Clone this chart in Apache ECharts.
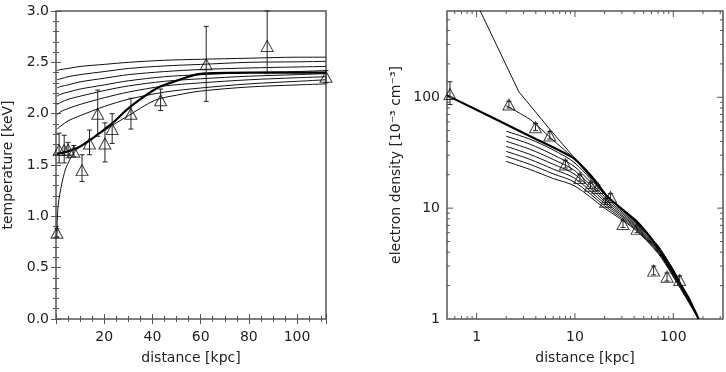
<!DOCTYPE html>
<html lang="en">
<head>
<meta charset="UTF-8">
<title>temperature and density profiles</title>
<script src="https://cdn.jsdelivr.net/npm/echarts@6/dist/echarts.min.js"></script>
<style>
    html, body { margin: 0; padding: 0; background: #fff; }
    #main { width: 726px; height: 372px; }
</style>
</head>
<body>
<div id="main"></div>
<script>
// ---------- left panel: temperature ----------
var tempR   = [0.4, 1.3, 3.4, 5.0, 7.4, 10.8, 13.9, 17.3, 20.3, 23.3, 31.1, 43.4, 62.3, 87.6, 112];
var tempKeV = [0.84, 1.645, 1.645, 1.65, 1.63, 1.45, 1.71, 2.00, 1.71, 1.85, 2.00, 2.13, 2.48, 2.66, 2.36];
var tempLo  = [0.80, 1.52, 1.52, 1.57, 1.58, 1.34, 1.60, 1.78, 1.53, 1.71, 1.85, 2.03, 2.12, 2.39, 2.30];
var tempHi  = [0.88, 1.81, 1.79, 1.72, 1.69, 1.60, 1.84, 2.23, 1.91, 2.00, 2.15, 2.24, 2.85, 3.00, 2.42];

var tModelR = [0.4, 2, 5, 10, 20, 30, 45, 60, 80, 100, 112];
var tModel1 = [2.42, 2.43, 2.44, 2.46, 2.48, 2.50, 2.52, 2.53, 2.54, 2.55, 2.55];
var tModel2 = [2.33, 2.34, 2.36, 2.38, 2.41, 2.44, 2.465, 2.48, 2.50, 2.505, 2.51];
var tModel3 = [2.25, 2.265, 2.28, 2.31, 2.345, 2.38, 2.41, 2.43, 2.445, 2.455, 2.46];
var tModel4 = [2.17, 2.19, 2.21, 2.24, 2.28, 2.32, 2.36, 2.38, 2.40, 2.41, 2.42];
var tModel5 = [2.09, 2.11, 2.14, 2.17, 2.225, 2.27, 2.315, 2.34, 2.365, 2.38, 2.39];
var tModel6 = [1.99, 2.02, 2.05, 2.09, 2.155, 2.21, 2.27, 2.30, 2.33, 2.35, 2.36];
var tModel7 = [1.85, 1.88, 1.93, 1.98, 2.07, 2.14, 2.21, 2.25, 2.29, 2.315, 2.33];
var tModel8R = [0.4, 0.7, 1.2, 2, 3, 4.1, 5.5, 6.8, 9, 11.5, 15, 18.3, 25, 30, 41, 50, 60, 80, 100, 112];
var tModel8  = [0.85, 1.05, 1.16, 1.27, 1.38, 1.47, 1.54, 1.60, 1.66, 1.71, 1.76, 1.81, 1.91, 1.98, 2.13, 2.18, 2.22, 2.26, 2.28, 2.29];
var tBestR = [0.4, 3, 7, 10, 14, 18, 23, 31, 42, 50, 58, 65, 80, 100, 112];
var tBest  = [1.61, 1.62, 1.65, 1.68, 1.74, 1.81, 1.90, 2.07, 2.25, 2.32, 2.38, 2.395, 2.40, 2.40, 2.40];

// ---------- right panel: electron density ----------
var densR  = [0.536, 2.13, 3.97, 5.55, 8.0, 11.2, 14.4, 17.1, 20.5, 23.0, 30.8, 42.8, 63.1, 86.3, 116];
var densNe = [107, 86, 53.7, 45.2, 24.8, 18.7, 15.9, 15.2, 11.4, 12.6, 7.2, 6.5, 2.73, 2.41, 2.25];
var densLo = [86, 80, 50, 42, 23, 17.5, 15, 14.3, 10.8, 11.8, 6.7, 6.0, 2.5, 2.2, 2.05];
var densHi = [138, 92, 58, 49, 27, 20, 17, 16.2, 12.2, 13.5, 7.7, 7.0, 3.0, 2.6, 2.45];

var nModelR = [2, 3.5, 6, 10, 20, 40, 70, 100, 181];
var nModel0 = [84, 63, 41, 27.5, 13.5, 7.7, 4.55, 2.78, 1.0];
var nModel1 = [49.4, 41.8, 33.5, 25.5, 13.3, 7.6, 4.5, 2.75, 1.0];
var nModel2 = [44.5, 37.7, 30.3, 23.5, 12.68, 7.4, 4.39, 2.69, 1.0];
var nModel3 = [40.1, 33.9, 27.5, 21.7, 12.09, 7.2, 4.29, 2.63, 1.0];
var nModel4 = [36.1, 30.5, 24.9, 20.1, 11.53, 7.0, 4.19, 2.57, 1.0];
var nModel5 = [32.5, 27.5, 22.5, 18.5, 11.0, 6.85, 4.09, 2.51, 1.0];
var nModel6 = [29.3, 24.8, 20.4, 17.1, 10.49, 6.65, 4.0, 2.45, 1.0];
var nModel7 = [26.4, 22.3, 18.5, 15.8, 10.0, 6.5, 3.9, 2.4, 1.0];
var nSteepR = [1.0, 2.69, 5.6, 9.5, 20, 40, 70, 100, 181];
var nSteep  = [703, 112, 51, 29.5, 13.6, 7.75, 4.6, 2.8, 1.0];
var nBestR = [0.5, 3.8, 9.5, 15, 21, 30, 43, 60, 74, 100, 140, 181];
var nBest  = [104, 43, 28.5, 19, 12.9, 9.8, 7.5, 5.3, 4.0, 2.6, 1.6, 1.0];

// log axis ticks (right panel)
var logXMajor = [1, 10, 100];
var logXMinor = [0.6, 0.7, 0.8, 0.9, 2, 3, 4, 5, 6, 7, 8, 9, 20, 30, 40, 50, 60, 70, 80, 90, 200, 300];
var logYMajor = [10, 100];
var logYMinor = [2, 3, 4, 5, 6, 7, 8, 9, 20, 30, 40, 50, 60, 70, 80, 90, 200, 300, 400, 500];

var axisColor = '#555';
var textColor = '#222';
var fontName = 'DejaVu Sans';

function zip(a, b) {
    return a.map(function (v, i) { return [v, b[i]]; });
}

function thinLine(xs, ys, xi, yi, smooth) {
    return {
        type: 'line', xAxisIndex: xi, yAxisIndex: yi, data: zip(xs, ys),
        symbol: 'none', smooth: smooth, clip: true,
        lineStyle: {color: '#111', width: 1}, z: 2
    };
}

function errorBars(xs, lo, hi, xi, yi) {
    return {
        type: 'custom', xAxisIndex: xi, yAxisIndex: yi, z: 3, silent: true,
        data: xs.map(function (v, i) { return [v, lo[i], hi[i]]; }),
        encode: {x: 0, y: [1, 2]},
        renderItem: function (params, api) {
            var a = api.coord([api.value(0), api.value(1)]);
            var b = api.coord([api.value(0), api.value(2)]);
            var w = 2.5, st = {stroke: '#222', lineWidth: 1};
            return {type: 'group', children: [
                {type: 'line', shape: {x1: a[0], y1: a[1], x2: b[0], y2: b[1]}, style: st},
                {type: 'line', shape: {x1: a[0] - w, y1: a[1], x2: a[0] + w, y2: a[1]}, style: st},
                {type: 'line', shape: {x1: b[0] - w, y1: b[1], x2: b[0] + w, y2: b[1]}, style: st}
            ]};
        }
    };
}

function triangles(xs, ys, xi, yi) {
    return {
        type: 'scatter', xAxisIndex: xi, yAxisIndex: yi, data: zip(xs, ys),
        symbol: 'triangle', symbolSize: [12, 11], z: 4,
        itemStyle: {color: 'rgba(0,0,0,0)', borderColor: '#111', borderWidth: 1}
    };
}

// ticks for the log panel, on all four sides, pointing inward
function logTicks(xi, yi, xr, yr) {
    var data = [];
    logXMinor.forEach(function (v) { data.push([v, yr[0], 0]); });
    logXMajor.forEach(function (v) { data.push([v, yr[0], 1]); });
    logYMinor.forEach(function (v) { data.push([xr[0], v, 2]); });
    logYMajor.forEach(function (v) { data.push([xr[0], v, 3]); });
    return {
        type: 'custom', xAxisIndex: xi, yAxisIndex: yi, z: 5, silent: true, clip: false,
        data: data,
        renderItem: function (params, api) {
            var kind = api.value(2);
            var bl = api.coord([xr[0], yr[0]]);
            var tr = api.coord([xr[1], yr[1]]);
            var len = (kind === 1 || kind === 3) ? 6 : 3;
            var st = {stroke: axisColor, lineWidth: 1};
            if (kind < 2) {
                var x = api.coord([api.value(0), yr[0]])[0];
                return {type: 'group', children: [
                    {type: 'line', shape: {x1: x, y1: bl[1], x2: x, y2: bl[1] - len}, style: st},
                    {type: 'line', shape: {x1: x, y1: tr[1], x2: x, y2: tr[1] + len}, style: st}
                ]};
            }
            var y = api.coord([xr[0], api.value(1)])[1];
            return {type: 'group', children: [
                {type: 'line', shape: {x1: bl[0], y1: y, x2: bl[0] + len, y2: y}, style: st},
                {type: 'line', shape: {x1: tr[0], y1: y, x2: tr[0] - len, y2: y}, style: st}
            ]};
        }
    };
}

function powerLabel(v) {
    var l = Math.log(v) / Math.LN10;
    return Math.abs(l - Math.round(l)) < 1e-6 ? String(Math.round(v)) : '';
}

var labelStyle = {color: textColor, fontFamily: fontName, fontSize: 14};
var linTick = {show: true, inside: true, length: 5, lineStyle: {color: axisColor}};
var linMinorX = {show: true, splitNumber: 4, length: 3, lineStyle: {color: axisColor}};
var linMinorY = {show: true, splitNumber: 5, length: 3, lineStyle: {color: axisColor}};

var chart = echarts.init(document.getElementById('main'), null, {renderer: 'canvas'});

var option = {
    animation: false,
    backgroundColor: '#fff',
    grid: [
        {left: 50, right: 400, top: 11, bottom: 53, show: true, borderColor: axisColor, borderWidth: 1.5},
        {left: 447, right: 3, top: 11, bottom: 53, show: true, borderColor: axisColor, borderWidth: 1.5}
    ],
    xAxis: [
        {
            type: 'value', gridIndex: 0, min: 0, max: 112, interval: 20,
            axisLine: {show: false}, axisTick: linTick, minorTick: linMinorX, splitLine: {show: false},
            axisLabel: Object.assign({margin: 11, showMaxLabel: false, formatter: function (v) {
                return (v > 0 && v % 20 === 0) ? String(v) : '';
            }}, labelStyle),
            name: 'distance [kpc]', nameLocation: 'middle', nameGap: 32,
            nameTextStyle: labelStyle
        },
        {
            type: 'value', gridIndex: 0, position: 'top', min: 0, max: 112, interval: 20,
            axisLine: {show: false}, axisTick: linTick, minorTick: linMinorX, splitLine: {show: false},
            axisLabel: {show: false}
        },
        {
            type: 'log', gridIndex: 1, min: 0.5, max: 320, logBase: 10,
            axisLine: {show: false}, axisTick: {show: false}, splitLine: {show: false},
            axisLabel: Object.assign({margin: 11, formatter: powerLabel}, labelStyle),
            name: 'distance [kpc]', nameLocation: 'middle', nameGap: 32,
            nameTextStyle: labelStyle
        }
    ],
    yAxis: [
        {
            type: 'value', gridIndex: 0, min: 0, max: 3, interval: 0.5,
            axisLine: {show: false}, axisTick: linTick, minorTick: linMinorY, splitLine: {show: false},
            axisLabel: Object.assign({margin: 7, formatter: function (v) { return v.toFixed(1); }}, labelStyle),
            name: 'temperature [keV]', nameLocation: 'middle', nameGap: 41,
            nameTextStyle: labelStyle
        },
        {
            type: 'value', gridIndex: 0, position: 'right', min: 0, max: 3, interval: 0.5,
            axisLine: {show: false}, axisTick: linTick, minorTick: linMinorY, splitLine: {show: false},
            axisLabel: {show: false}
        },
        {
            type: 'log', gridIndex: 1, min: 1, max: 600, logBase: 10,
            axisLine: {show: false}, axisTick: {show: false}, splitLine: {show: false},
            axisLabel: Object.assign({margin: 7, formatter: powerLabel}, labelStyle),
            name: 'electron density [10\u207B\u00B3 cm\u207B\u00B3]', nameLocation: 'middle', nameGap: 44,
            nameTextStyle: labelStyle
        }
    ],
    series: [
        thinLine(tModelR, tModel1, 0, 0, 0.3),
        thinLine(tModelR, tModel2, 0, 0, 0.3),
        thinLine(tModelR, tModel3, 0, 0, 0.3),
        thinLine(tModelR, tModel4, 0, 0, 0.3),
        thinLine(tModelR, tModel5, 0, 0, 0.3),
        thinLine(tModelR, tModel6, 0, 0, 0.3),
        thinLine(tModelR, tModel7, 0, 0, 0.3),
        thinLine(tModel8R, tModel8, 0, 0, 0.3),
        {
            type: 'line', xAxisIndex: 0, yAxisIndex: 0, data: zip(tBestR, tBest),
            symbol: 'none', smooth: 0.3, lineStyle: {color: '#000', width: 2.2}, z: 2
        },
        errorBars(tempR, tempLo, tempHi, 0, 0),
        triangles(tempR, tempKeV, 0, 0),

        thinLine(nModelR, nModel0, 2, 2, 0.2),
        thinLine(nModelR, nModel1, 2, 2, 0.3),
        thinLine(nModelR, nModel2, 2, 2, 0.3),
        thinLine(nModelR, nModel3, 2, 2, 0.3),
        thinLine(nModelR, nModel4, 2, 2, 0.3),
        thinLine(nModelR, nModel5, 2, 2, 0.3),
        thinLine(nModelR, nModel6, 2, 2, 0.3),
        thinLine(nModelR, nModel7, 2, 2, 0.3),
        thinLine(nSteepR, nSteep, 2, 2, false),
        {
            type: 'line', xAxisIndex: 2, yAxisIndex: 2, data: zip(nBestR, nBest),
            symbol: 'none', smooth: 0.2, lineStyle: {color: '#000', width: 2.2}, z: 2
        },
        errorBars(densR, densLo, densHi, 2, 2),
        triangles(densR, densNe, 2, 2),
        logTicks(2, 2, [0.5, 320], [1, 600])
    ]
};

chart.setOption(option);
</script>
</body>
</html>
